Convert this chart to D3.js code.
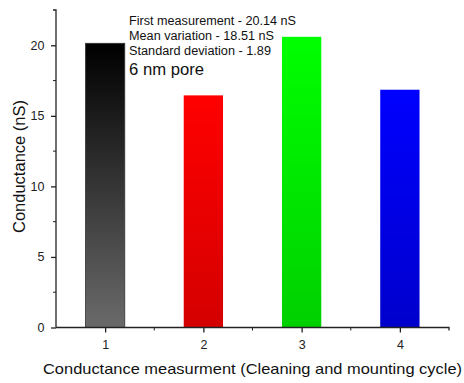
<!DOCTYPE html>
<html>
<head>
<meta charset="utf-8">
<script src="https://cdn.jsdelivr.net/npm/d3@7"></script>
<style>
  html, body { margin: 0; padding: 0; background: #fff; }
  svg { display: block; font-family: Arial, "Liberation Sans", sans-serif; }
</style>
</head>
<body>
<svg id="chart" width="464" height="383"></svg>
<script>
// Conductance per cleaning / mounting cycle
const cycles = [1, 2, 3, 4];
const conductance = [20.14, 16.45, 20.6, 16.85];
const topColors = ["#000000", "#ff0000", "#00ff00", "#0000ff"];
const bottomColors = ["#6a6a6a", "#d40000", "#00d000", "#0000cc"];
const yTicks = [0, 5, 10, 15, 20];
const notes = [
  "First measurement - 20.14 nS",
  "Mean variation - 18.51 nS",
  "Standard deviation - 1.89"
];
const noteWidths = [167, 145, 142];
const poreLabel = "6 nm pore";

const svg = d3.select("#chart");
const plot = { left: 56, right: 449, top: 10, bottom: 327.5 };

const x = d3.scaleLinear().domain([0.5, 4.5]).range([plot.left, plot.right]);
const y = d3.scaleLinear().domain([0, 22.5]).range([plot.bottom, plot.top]);
const barW = x(1.4) - x(1);

// vertical gradients for each bar
const defs = svg.append("defs");
cycles.forEach((c, i) => {
  const g = defs.append("linearGradient")
    .attr("id", "grad" + i)
    .attr("x1", 0).attr("y1", 0).attr("x2", 0).attr("y2", 1);
  g.append("stop").attr("offset", "0%").attr("stop-color", topColors[i]);
  g.append("stop").attr("offset", "100%").attr("stop-color", bottomColors[i]);
});

// bars
svg.append("g").selectAll("rect")
  .data(cycles)
  .join("rect")
  .attr("x", (d) => x(d) - barW / 2)
  .attr("y", (d, i) => y(conductance[i]))
  .attr("width", barW)
  .attr("height", (d, i) => y(0) - y(conductance[i]))
  .attr("fill", (d, i) => `url(#grad${i})`)
  .attr("stroke", (d, i) => i === 0 ? "#333" : "none")
  .attr("stroke-width", 0.8);

// y axis
const yAxis = svg.append("g")
  .attr("transform", `translate(${plot.left},0)`)
  .call(d3.axisLeft(y).tickValues(yTicks).tickSize(5).tickPadding(6.5).tickFormat(d3.format("d")));
yAxis.append("g").selectAll("line")
  .data(d3.range(2.5, 22.5, 5))
  .join("line")
  .attr("x1", -3).attr("x2", 0)
  .attr("y1", (d) => y(d)).attr("y2", (d) => y(d))
  .attr("stroke", "#222");
yAxis.select(".domain").attr("d", `M-3,${plot.top}H0V${plot.bottom}`);

// x axis
const xAxis = svg.append("g")
  .attr("transform", `translate(0,${plot.bottom})`)
  .call(d3.axisBottom(x).tickValues(cycles).tickSize(5).tickPadding(7.5).tickFormat(d3.format("d")));
xAxis.append("g").selectAll("line")
  .data([1.5, 2.5, 3.5])
  .join("line")
  .attr("x1", (d) => x(d)).attr("x2", (d) => x(d))
  .attr("y1", 0).attr("y2", 3)
  .attr("stroke", "#222");
xAxis.select(".domain").attr("d", `M${plot.left},0H${plot.right}V3`);

svg.selectAll(".domain, .tick line").attr("stroke", "#222").attr("stroke-width", 1.3);
svg.selectAll(".tick text").attr("font-size", 12.5).attr("fill", "#222")
  .attr("font-family", "Arial, 'Liberation Sans', sans-serif");

// axis titles
svg.append("text")
  .attr("transform", "translate(25,166.5) rotate(-90)")
  .attr("text-anchor", "middle")
  .attr("font-size", 16.5)
  .attr("textLength", 133)
  .attr("lengthAdjust", "spacingAndGlyphs")
  .attr("fill", "#111")
  .text("Conductance (nS)");

svg.append("text")
  .attr("x", 252.5)
  .attr("y", 374)
  .attr("text-anchor", "middle")
  .attr("font-size", 15)
  .attr("textLength", 419)
  .attr("lengthAdjust", "spacingAndGlyphs")
  .attr("fill", "#111")
  .text("Conductance measurment (Cleaning and mounting cycle)");

// annotation
svg.append("g").selectAll("text")
  .data(notes)
  .join("text")
  .attr("x", 129)
  .attr("y", (d, i) => 24.5 + i * 15)
  .attr("font-size", 12)
  .attr("textLength", (d, i) => noteWidths[i])
  .attr("lengthAdjust", "spacingAndGlyphs")
  .attr("fill", "#111")
  .text((d) => d);

svg.append("text")
  .attr("x", 129)
  .attr("y", 75)
  .attr("font-size", 16)
  .attr("textLength", 75)
  .attr("lengthAdjust", "spacingAndGlyphs")
  .attr("fill", "#111")
  .text(poreLabel);
</script>
</body>
</html>
